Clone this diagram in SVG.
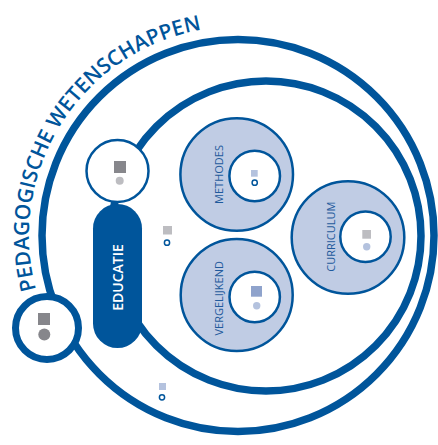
<svg xmlns="http://www.w3.org/2000/svg" width="438" height="445" viewBox="0 0 438 445">
<style>
.ring{fill:none;stroke:#00559b;stroke-width:7.5}
.node{fill:#ffffff;stroke:#00559b}
.area{fill:#c0cce4;stroke:#00559b;stroke-width:2.5}
.hole{fill:#ffffff;stroke:#00559b;stroke-width:2.5}
.lbl{font-family:"Open Sans","Liberation Sans",sans-serif;font-size:11px;fill:#1f5a9c;text-anchor:middle}
.ring-o{fill:none;stroke:#00559b;stroke-width:1.5}
</style>
<defs>
<path id="arcText" d="M 36.1 289.6 A 209 209 0 0 1 274.3 29.7"/>
</defs>
<g id="connectors">
<circle class="ring" cx="238" cy="235.5" r="196"/>
<circle class="ring" cx="266" cy="236" r="155"/>
</g>
<g id="title">
<text font-family="'Open Sans','Liberation Sans',sans-serif" font-size="21" font-weight="600" fill="#00559b"><textPath href="#arcText" textLength="346" lengthAdjust="spacing">PEDAGOGISCHE WETENSCHAPPEN</textPath></text>
</g>
<g id="node-pedagogy">
<circle class="node" cx="47" cy="328" r="31.5" stroke-width="7"/>
<rect x="38" y="313" width="12" height="12" fill="#86868b"/>
<circle cx="44.3" cy="334.5" r="6" fill="#86868b"/>
</g>
<g id="node-top">
<circle class="node" cx="117.5" cy="171" r="31" stroke-width="2.5"/>
<rect x="114" y="161" width="12" height="12" fill="#87878c"/>
<circle cx="119.7" cy="180.7" r="4" fill="#bdbdc1"/>
</g>
<g id="node-educatie">
<rect x="93" y="204" width="49" height="144" rx="24.5" fill="#00559b"/>
<text transform="translate(122.5,277.5) rotate(-90)" font-family="'Open Sans','Liberation Sans',sans-serif" font-size="14" font-weight="600" fill="#ffffff" text-anchor="middle">EDUCATIE</text>
</g>
<g id="marker-mid">
<rect x="163" y="226" width="9" height="8.5" fill="#bdbdc1"/>
<circle class="ring-o" cx="167" cy="242.7" r="2.6"/>
</g>
<g id="marker-bottom">
<rect x="159" y="383" width="7" height="7" fill="#b4c2de"/>
<circle class="ring-o" cx="162" cy="397.3" r="2.6"/>
</g>
<g id="node-methodes">
<circle class="area" cx="236.7" cy="174.5" r="56.3"/>
<circle class="hole" cx="254.7" cy="176" r="25.3"/>
<text class="lbl" transform="translate(223.3,174.5) rotate(-90)">METHODES</text>
<rect x="251" y="170" width="6.7" height="6.7" fill="#b4c2de"/>
<circle class="ring-o" cx="254.7" cy="182.7" r="2.6"/>
</g>
<g id="node-curriculum">
<circle class="area" cx="348" cy="237.5" r="56.3"/>
<circle class="hole" cx="365.5" cy="236.7" r="25.2"/>
<text class="lbl" transform="translate(335,236.7) rotate(-90)">CURRICULUM</text>
<rect x="362.3" y="230" width="8.7" height="8.7" fill="#bdbdc1"/>
<circle cx="366.7" cy="246.7" r="3.7" fill="#b4c2de"/>
</g>
<g id="node-vergelijkend">
<circle class="area" cx="236.7" cy="295" r="56"/>
<circle class="hole" cx="254.7" cy="297" r="25.2"/>
<text class="lbl" transform="translate(222.7,298.3) rotate(-90)">VERGELIJKEND</text>
<rect x="251" y="286" width="11" height="10.7" fill="#8fa3cc"/>
<circle cx="256.7" cy="305.7" r="3.7" fill="#b4c2de"/>
</g>
</svg>
